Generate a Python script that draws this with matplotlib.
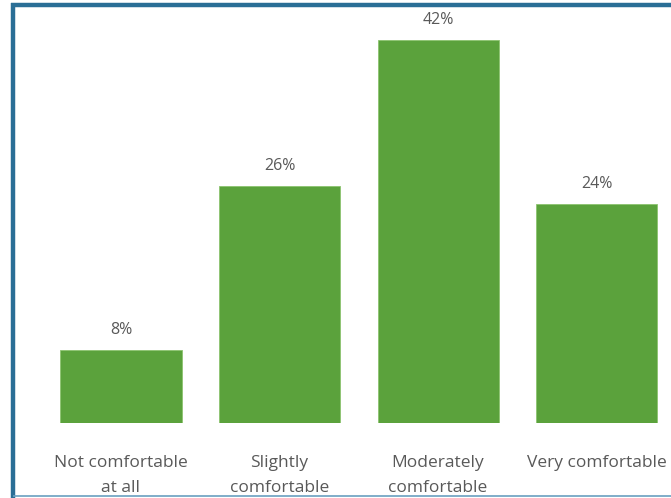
import matplotlib
matplotlib.use("Agg")
import matplotlib.pyplot as plt
from matplotlib.lines import Line2D

categories = ["Not comfortable\nat all", "Slightly\ncomfortable",
              "Moderately\ncomfortable", "Very comfortable"]
shares = [8, 26, 42, 24]
value_labels = ["8%", "26%", "42%", "24%"]

W, H = 671, 498
fig = plt.figure(figsize=(W / 100, H / 100), dpi=100)
fig.patch.set_facecolor("white")

plt.rcParams["font.family"] = ["Open Sans", "DejaVu Sans"]
text_color = "#595959"
bar_color = "#5ba23c"

# axes in pixel terms: bars' baseline at y=423, plot reaching to the top
base_px = 423
px_per_unit = 9.12
step_px = 158.5
first_center = 121
left_px, right_px = 15, 671

ax = fig.add_axes([left_px / W, 1 - base_px / H, (right_px - left_px) / W, base_px / H])
ax.set_xlim((left_px - first_center) / step_px, (right_px - first_center) / step_px)
ax.set_ylim(0, base_px / px_per_unit)

x = list(range(len(categories)))
ax.bar(x, shares, width=121 / step_px, color=bar_color, edgecolor="#8cc46f", linewidth=0.6)

for xi, v, lab in zip(x, shares, value_labels):
    ax.annotate(lab, (xi, v), xytext=(0, 12), textcoords="offset pixels",
                ha="center", va="bottom", fontsize=11.5, color=text_color)

ax.set_xticks(x)
ax.set_xticklabels(categories, fontsize=12.5, color=text_color, linespacing=1.78,
                   va="top")
ax.tick_params(axis="x", length=0, pad=23)
ax.set_yticks([])
for s in ax.spines.values():
    s.set_visible(False)

# frame around the panel
fig.add_artist(Line2D([13 / W, 13 / W], [0, 1 - 3 / H], transform=fig.transFigure,
                      color="#2a6e96", linewidth=3.2, solid_capstyle="butt"))
fig.add_artist(Line2D([11 / W, 1], [1 - 5 / H, 1 - 5 / H], transform=fig.transFigure,
                      color="#2a6e96", linewidth=3.2, solid_capstyle="butt"))
fig.add_artist(Line2D([13 / W, 1], [1 - 496 / H, 1 - 496 / H], transform=fig.transFigure,
                      color="#6a9fc0", linewidth=1.2, solid_capstyle="butt"))

fig.savefig("out.png", dpi=100, facecolor="white")
